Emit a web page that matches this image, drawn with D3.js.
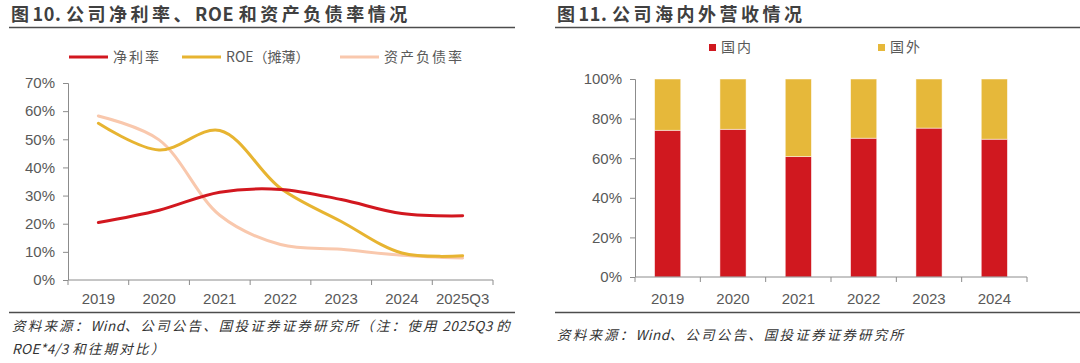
<!DOCTYPE html>
<html>
<head>
<meta charset="utf-8">
<script src="https://cdn.jsdelivr.net/npm/d3@7"></script>
<style>
  body { margin: 0; background: #fff; }
  text { font-family: "Liberation Sans", Arial, sans-serif; white-space: pre; }
  .cjk { font-family: "Noto Sans CJK SC", sans-serif; }
</style>
</head>
<body>
<svg id="chart"></svg>
<script>
const width = 1080;
const height = 363;

// left chart data
const years = ["2019", "2020", "2021", "2022", "2023", "2024", "2025Q3"];
const netMargin = [20.4, 24.8, 31.2, 32.2, 28.6, 23.6, 22.8];
const roe = [55.7, 46.2, 53.1, 32.6, 20.8, 9.6, 8.6];
const debtRatio = [58.3, 49.8, 23.0, 12.6, 10.9, 8.8, 7.8];
const lineNames = ["净利率", "ROE（摊薄）", "资产负债率"];
const lineColors = ["#d2171f", "#e7b431", "#f9c8ad"];
const leftTicks = [0, 10, 20, 30, 40, 50, 60, 70];

// right chart data
const barYears = ["2019", "2020", "2021", "2022", "2023", "2024"];
const domestic = [74.1, 74.6, 60.8, 70.1, 75.2, 69.6];
const overseas = domestic.map(d => 100 - d);
const barNames = ["国内", "国外"];
const barColors = ["#d0181f", "#e6b83a"];
const rightTicks = [0, 20, 40, 60, 80, 100];

var svg = d3.select("#chart")
    .attr("width", width)
    .attr("height", height);

// text with wider spacing on CJK runs only
function spaced(sel, label, cjkSpace, latinSpace) {
    const runs = label.match(/[\u3000-\u9fff\uff00-\uffef]+|[^\u3000-\u9fff\uff00-\uffef]+/g);
    runs.forEach(r => {
        const isCjk = /[\u3000-\u9fff\uff00-\uffef]/.test(r);
        sel.append("tspan")
            .attr("letter-spacing", isCjk ? cjkSpace : latinSpace)
            .text(r);
    });
}

// titles and rules
function header(x0, x1, tx, label) {
    var t = svg.append("text").attr("class", "cjk")
        .attr("x", tx).attr("y", 21)
        .attr("font-size", 18).attr("font-weight", "bold")
        .attr("fill", "#404040");
    spaced(t, label, 3.5, 0.6);
    svg.append("line").attr("x1", x0).attr("x2", x1)
        .attr("y1", 27.5).attr("y2", 27.5)
        .attr("stroke", "#4d4d4d").attr("stroke-width", 1.6);
    svg.append("line").attr("x1", x0).attr("x2", x1)
        .attr("y1", 312.5).attr("y2", 312.5)
        .attr("stroke", "#4d4d4d").attr("stroke-width", 1.6);
}
header(9, 515, 11, "图10. 公司净利率、ROE 和资产负债率情况");
header(555, 1080, 557, "图11. 公司海内外营收情况");

// sources
function source(x, y, label) {
    var t = svg.append("text").attr("class", "cjk")
        .attr("x", x).attr("y", y)
        .attr("font-size", 13.5).attr("font-style", "italic").attr("fill", "#333");
    spaced(t, label, 2.2, 0.5);
}
source(12, 331, "资料来源：Wind、公司公告、国投证券证券研究所（注：使用 2025Q3 的");
source(12, 354, "ROE*4/3 和往期对比）");
source(557, 340, "资料来源：Wind、公司公告、国投证券证券研究所");

// ---------- left line chart ----------
var xL = d3.scaleBand().domain(years).range([68, 493]);
var yL = d3.scaleLinear().domain([0, 70]).range([280, 83]);

var gL = svg.append("g");

// y axis
gL.append("g")
    .attr("transform", "translate(68,0)")
    .call(d3.axisLeft(yL).tickValues(leftTicks).tickSize(5).tickPadding(8)
        .tickFormat(d => d + "%"))
    .call(g => {
        g.select(".domain").attr("stroke", "#8c8c8c").attr("d", "M-5,83.5H0.5V280");
        g.selectAll(".tick line").attr("stroke", "#8c8c8c");
        g.selectAll(".tick text").attr("fill", "#595959").attr("font-size", 15)
            .attr("font-family", "Liberation Sans, Arial, sans-serif");
    });

// x axis
var xAxisL = gL.append("g").attr("transform", "translate(0,280)");
xAxisL.append("line").attr("x1", 68).attr("x2", 493)
    .attr("stroke", "#8c8c8c");
xAxisL.selectAll(".bt")
    .data(years.map(d => xL(d)).concat([xL.range()[1]]))
    .enter().append("line")
    .attr("x1", d => d).attr("x2", d => d)
    .attr("y1", 0).attr("y2", 5)
    .attr("stroke", "#8c8c8c");
xAxisL.selectAll("text")
    .data(years)
    .enter().append("text")
    .attr("x", d => xL(d) + xL.bandwidth() / 2)
    .attr("y", 24)
    .attr("text-anchor", "middle")
    .attr("fill", "#595959").attr("font-size", 15)
    .text(d => d);

var line = d3.line()
    .x((d, i) => xL(years[i]) + xL.bandwidth() / 2)
    .y(d => yL(d))
    .curve(d3.curveCatmullRom.alpha(0.5));

// draw debt ratio first (behind), then roe, then net margin
[[debtRatio, 2], [roe, 1], [netMargin, 0]].forEach(([vals, k]) => {
    gL.append("path")
        .datum(vals)
        .attr("fill", "none")
        .attr("stroke", lineColors[k])
        .attr("stroke-width", 3)
        .attr("stroke-linecap", "round")
        .attr("d", line);
});

// legend left
const legX = [69, 182, 340];
lineNames.forEach((name, i) => {
    gL.append("line")
        .attr("x1", legX[i]).attr("x2", legX[i] + 39)
        .attr("y1", 57).attr("y2", 57)
        .attr("stroke", lineColors[i]).attr("stroke-width", 3);
    gL.append("text").attr("class", "cjk")
        .attr("x", legX[i] + 44).attr("y", 62)
        .attr("font-size", 14).attr("fill", "#595959")
        .attr("letter-spacing", i === 1 ? 0 : 2)
        .text(name);
});

// ---------- right stacked bar chart ----------
var xR = d3.scaleBand().domain(barYears).range([635, 1027]).paddingInner(0.6).paddingOuter(0.3);
var xRb = d3.scaleBand().domain(barYears).range([635, 1027]);
var yR = d3.scaleLinear().domain([0, 100]).range([277, 79]);

var gR = svg.append("g");

gR.append("g")
    .attr("transform", "translate(635,0)")
    .call(d3.axisLeft(yR).tickValues(rightTicks).tickSize(5).tickPadding(8)
        .tickFormat(d => d + "%"))
    .call(g => {
        g.select(".domain").attr("stroke", "#8c8c8c").attr("d", "M-5,79.5H0.5V277");
        g.selectAll(".tick line").attr("stroke", "#8c8c8c");
        g.selectAll(".tick text").attr("fill", "#595959").attr("font-size", 15)
            .attr("font-family", "Liberation Sans, Arial, sans-serif");
    });

var stackData = barYears.map((y, i) => ({ year: y, d: domestic[i], o: overseas[i] }));
var series = d3.stack().keys(["d", "o"])(stackData);

gR.append("g").selectAll("g")
    .data(series)
    .enter().append("g")
    .attr("fill", (s, i) => barColors[i])
    .selectAll("rect")
    .data(s => s)
    .enter().append("rect")
    .attr("x", d => xR(d.data.year))
    .attr("width", xR.bandwidth())
    .attr("y", d => yR(d[1]))
    .attr("height", d => yR(d[0]) - yR(d[1]))
    .attr("stroke", "#fff")
    .attr("stroke-opacity", 0.6)
    .attr("stroke-width", 0.8);

var xAxisR = gR.append("g").attr("transform", "translate(0,277)");
xAxisR.append("line").attr("x1", 635).attr("x2", 1027).attr("stroke", "#8c8c8c");
xAxisR.selectAll(".bt")
    .data(barYears.map(d => xRb(d)).concat([xRb.range()[1]]))
    .enter().append("line")
    .attr("x1", d => d).attr("x2", d => d)
    .attr("y1", 0).attr("y2", 5)
    .attr("stroke", "#8c8c8c");
xAxisR.selectAll("text")
    .data(barYears)
    .enter().append("text")
    .attr("x", d => xRb(d) + xRb.bandwidth() / 2)
    .attr("y", 27)
    .attr("text-anchor", "middle")
    .attr("fill", "#595959").attr("font-size", 15)
    .text(d => d);

// legend right
const legRX = [709, 878];
barNames.forEach((name, i) => {
    gR.append("rect")
        .attr("x", legRX[i]).attr("y", 44)
        .attr("width", 7).attr("height", 7)
        .attr("fill", barColors[i]);
    gR.append("text").attr("class", "cjk")
        .attr("x", legRX[i] + 12).attr("y", 52)
        .attr("font-size", 14).attr("fill", "#595959")
        .attr("letter-spacing", 2)
        .text(name);
});
</script>
</body>
</html>
